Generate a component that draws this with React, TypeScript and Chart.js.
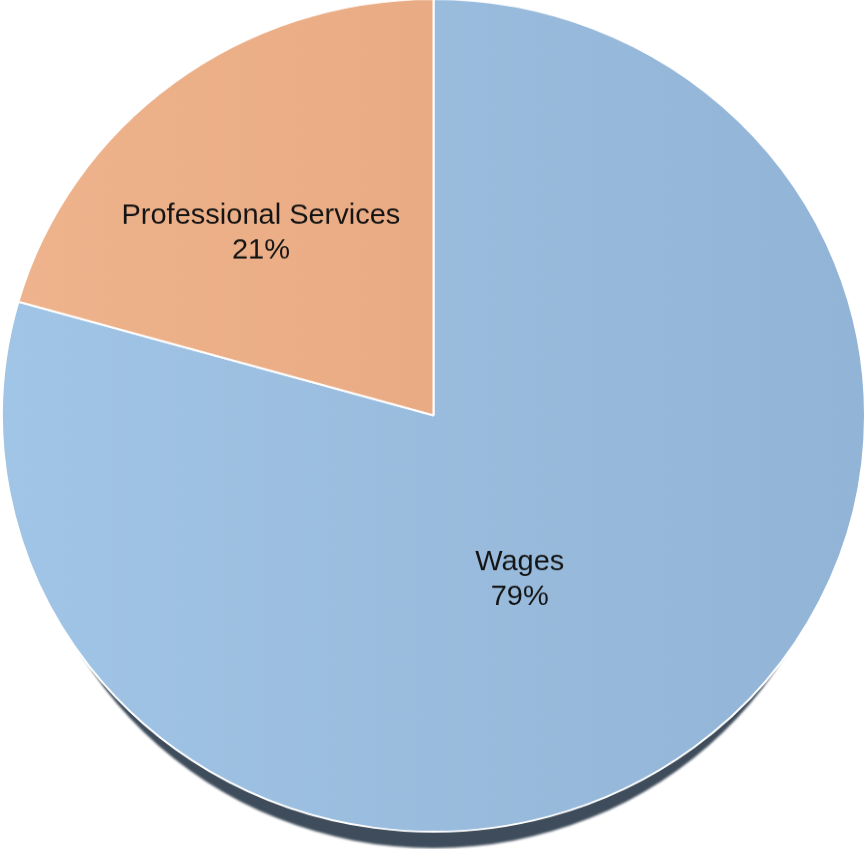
import React, { useEffect, useRef } from "react";
import { Chart, registerables } from "chart.js";

Chart.register(...registerables);

// ---- data ----
const categories = ["Wages", "Professional Services"];
const shares = [79.4, 20.6];

// ---- style constants ----
const BLUE_STOPS = ["#a1c5e6", "#92b4d6"];
const ORANGE_STOPS = ["#efb48d", "#e3a27b"];
const LABEL_FRAC = [0.445, 0.59];
const LABEL_ANGLE_OFFSET_DEG = [10.4, -5.6];
const LABEL_SHIFT_Y = -1.5;
const FONT = '29px "Liberation Sans", Arial, sans-serif';
const LINE_GAP = 34.5;

const INTERNAL_W = 867;
const INTERNAL_H = 885;
const CSS_W = 867;
const CSS_H = 854;

const shadowPlugin = {
  id: "pieShadow",
  beforeDatasetsDraw(chart: any) {
    const meta = chart.getDatasetMeta(0);
    const a = meta.data[0];
    if (!a) return;
    const { x, y, outerRadius } = a.getProps(["x", "y", "outerRadius"], true);
    const ctx = chart.ctx;
    ctx.save();
    ctx.fillStyle = "#3e4c5b";
    ctx.filter = "blur(1.2px)";
    ctx.beginPath();
    ctx.arc(x, y + 39, outerRadius - 22, 0, Math.PI * 2);
    ctx.fill();
    ctx.restore();
  },
};

const labelPlugin = {
  id: "sliceLabels",
  afterDatasetsDraw(chart: any) {
    const meta = chart.getDatasetMeta(0);
    const ctx = chart.ctx;
    const rect = chart.canvas.getBoundingClientRect();
    const sy = rect.height / chart.height || 1;
    const values: number[] = chart.data.datasets[0].data;
    const total = values.reduce((s, v) => s + v, 0);
    meta.data.forEach((arc: any, i: number) => {
      const { x, y, startAngle, endAngle, outerRadius } = arc.getProps(
        ["x", "y", "startAngle", "endAngle", "outerRadius"],
        true
      );
      const mid = (startAngle + endAngle) / 2 + (LABEL_ANGLE_OFFSET_DEG[i] * Math.PI) / 180;
      const r = outerRadius * LABEL_FRAC[i];
      const px = x + Math.cos(mid) * r;
      const py = y + Math.sin(mid) * r + LABEL_SHIFT_Y / sy;
      const pct = Math.round((values[i] / total) * 100) + "%";
      ctx.save();
      ctx.translate(px, py);
      ctx.scale(1, 1 / sy);
      ctx.font = FONT;
      ctx.fillStyle = "#141414";
      ctx.textAlign = "center";
      ctx.textBaseline = "middle";
      ctx.fillText(String(chart.data.labels[i]), 0, -LINE_GAP / 2);
      ctx.fillText(pct, 0, LINE_GAP / 2);
      ctx.restore();
    });
  },
};

function makeGradient(chart: any, stops: string[]) {
  const area = chart.chartArea;
  if (!area) return stops[0];
  const g = chart.ctx.createLinearGradient(area.left, 0, area.right, 0);
  g.addColorStop(0, stops[0]);
  g.addColorStop(1, stops[1]);
  return g;
}

export default function App() {
  const ref = useRef<HTMLCanvasElement | null>(null);

  useEffect(() => {
    if (!ref.current) return;
    const chart = new Chart(ref.current, {
      type: "pie",
      data: {
        labels: categories,
        datasets: [
          {
            data: shares,
            backgroundColor: (c: any) =>
              makeGradient(c.chart, c.dataIndex === 0 ? BLUE_STOPS : ORANGE_STOPS),
            borderColor: "#ffffff",
            borderWidth: 2,
          },
        ],
      },
      options: {
        responsive: false,
        animation: false,
        devicePixelRatio: 1,
        layout: { padding: { left: 1, right: 1, top: 0, bottom: 18 } },
        plugins: {
          legend: { display: false },
          tooltip: { enabled: false },
        },
      },
      plugins: [shadowPlugin, labelPlugin],
    });
    return () => chart.destroy();
  }, []);

  return (
    <div
      style={{
        position: "fixed",
        left: 0,
        top: 0,
        width: 867,
        height: 849,
        overflow: "hidden",
        background: "#ffffff",
      }}
    >
      <canvas
        ref={ref}
        width={INTERNAL_W}
        height={INTERNAL_H}
        style={{ position: "absolute", left: 0, top: -3, width: CSS_W, height: CSS_H }}
      />
    </div>
  );
}
